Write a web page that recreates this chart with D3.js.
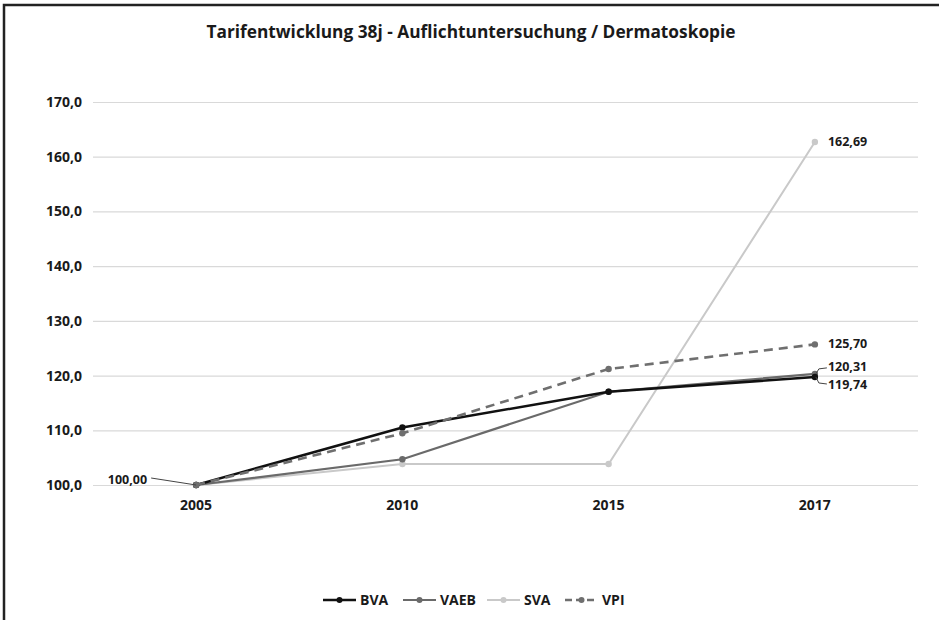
<!DOCTYPE html>
<html><head><meta charset="utf-8">
<script src="https://cdn.jsdelivr.net/npm/d3@7"></script>
<style>body{margin:0;background:#fff}svg{display:block}text{font-family:"Open Sans","Liberation Sans",Arial,sans-serif;font-weight:bold;fill:#1a1a1a}</style>
</head><body><svg id="c" width="939" height="620"></svg>
<script>
const title = "Tarifentwicklung 38j - Auflichtuntersuchung / Dermatoskopie";
const categories = ["2005", "2010", "2015", "2017"];
const seriesNames = ["BVA", "VAEB", "SVA", "VPI"];
const bva  = [100, 110.5, 117.05, 119.74];
const vaeb = [100, 104.7, 117.05, 120.31];
const sva  = [100, 103.85, 103.85, 162.69];
const vpi  = [100, 109.45, 121.2, 125.70];
const yTicks = [100, 110, 120, 130, 140, 150, 160, 170];

const svg = d3.select("#c");
const W = 939, H = 620;
const m = {left: 93, right: 21, top: 102, bottom: 135};
const x = d3.scaleBand().domain(categories).range([m.left, W - m.right]);
const y = d3.scaleLinear().domain([100, 170]).range([H - m.bottom, m.top]);
const cx = c => x(c) + x.bandwidth() / 2;
const FONT = "Open Sans, Liberation Sans, Arial, sans-serif";

// border (left + top)
svg.append("path").attr("d", `M4,${H} L4,5 L${W},5`).attr("fill","none").attr("stroke","#222").attr("stroke-width",2.5);

svg.append("text").attr("x", 471).attr("y", 38).attr("text-anchor","middle").attr("font-size",17.3).text(title);

// gridlines
const yAxis = d3.axisLeft(y).tickValues(yTicks).tickSize(-(W - m.left - m.right)).tickPadding(11)
  .tickFormat(d => d3.format(".1f")(d).replace(".", ","));
const gy = svg.append("g").attr("transform", `translate(${m.left},0)`).call(yAxis);
gy.select(".domain").remove();
gy.selectAll("line").attr("stroke","#d9d9d9").attr("stroke-width",1.2);
gy.selectAll("text").attr("font-size",14).attr("fill","#1a1a1a").style("font-family",FONT).style("font-weight","bold");

const xAxis = d3.axisBottom(x).tickSize(0).tickPadding(15);
const gx = svg.append("g").attr("transform", `translate(0,${H - m.bottom})`).call(xAxis);
gx.select(".domain").remove();
gx.selectAll("text").attr("font-size",14).attr("fill","#1a1a1a").style("font-family",FONT).style("font-weight","bold");

const series = [
  {name:"SVA", vals:sva, color:"#c9c9c9", w:2, dash:null},
  {name:"VAEB", vals:vaeb, color:"#6a6a6a", w:2.2, dash:null},
  {name:"BVA", vals:bva, color:"#111111", w:2.5, dash:null},
  {name:"VPI", vals:vpi, color:"#6f6f6f", w:2.6, dash:"9,6"}
];
const line = d3.line().x((d,i) => cx(categories[i])).y(d => y(d));
series.forEach(s => {
  svg.append("path").datum(s.vals).attr("d", line).attr("fill","none")
    .attr("stroke", s.color).attr("stroke-width", s.w).attr("stroke-dasharray", s.dash);
  svg.selectAll(null).data(s.vals).enter().append("circle")
    .attr("cx",(d,i)=>cx(categories[i])).attr("cy",d=>y(d)).attr("r",3.2).attr("fill",s.color);
});

// data labels
const fmt = v => d3.format(".2f")(v).replace(".", ",");
const lx = cx("2017") + 13;
const LFS = 12.5;
svg.append("text").attr("x", lx).attr("y", y(sva[3]) + 4).attr("font-size",LFS).text(fmt(sva[3]));
svg.append("text").attr("x", lx).attr("y", y(vpi[3]) + 4).attr("font-size",LFS).text(fmt(vpi[3]));
svg.append("text").attr("x", lx).attr("y", y(vaeb[3]) - 3).attr("font-size",LFS).text(fmt(vaeb[3]));
svg.append("text").attr("x", lx).attr("y", y(bva[3]) + 12).attr("font-size",LFS).text(fmt(bva[3]));
// leader lines at 2017
const px = cx("2017");
svg.append("path").attr("d", `M${px+1},${y(vaeb[3])} L${px+4},${y(vaeb[3])-5} L${lx-1},${y(vaeb[3])-6}`).attr("fill","none").attr("stroke","#444").attr("stroke-width",1);
svg.append("path").attr("d", `M${px+1},${y(bva[3])} L${px+4},${y(bva[3])+6} L${lx-1},${y(bva[3])+7}`).attr("fill","none").attr("stroke","#444").attr("stroke-width",1);
// 100,00 label
const p0 = cx("2005");
svg.append("text").attr("x", p0 - 49).attr("y", y(bva[0]) - 1).attr("text-anchor","end").attr("font-size",LFS).text(fmt(bva[0]));
svg.append("path").attr("d", `M${p0-45},${y(bva[0])-7} L${p0},${y(bva[0])}`).attr("fill","none").attr("stroke","#444").attr("stroke-width",1);

// legend
const legendOrder = [
  {name:"BVA", color:"#111111", w:2.5, dash:null, x:323},
  {name:"VAEB", color:"#6a6a6a", w:2.2, dash:null, x:403},
  {name:"SVA", color:"#c9c9c9", w:2, dash:null, x:487},
  {name:"VPI", color:"#6f6f6f", w:2.6, dash:"7,4", x:565}
];
const ly = 600;
legendOrder.forEach(l => {
  svg.append("line").attr("x1", l.x).attr("x2", l.x + 33).attr("y1", ly).attr("y2", ly)
    .attr("stroke", l.color).attr("stroke-width", l.w).attr("stroke-dasharray", l.dash);
  svg.append("circle").attr("cx", l.x + 16.5).attr("cy", ly).attr("r", 3).attr("fill", l.color);
  svg.append("text").attr("x", l.x + 37).attr("y", ly + 5).attr("font-size",14).text(l.name);
});
</script></body></html>
